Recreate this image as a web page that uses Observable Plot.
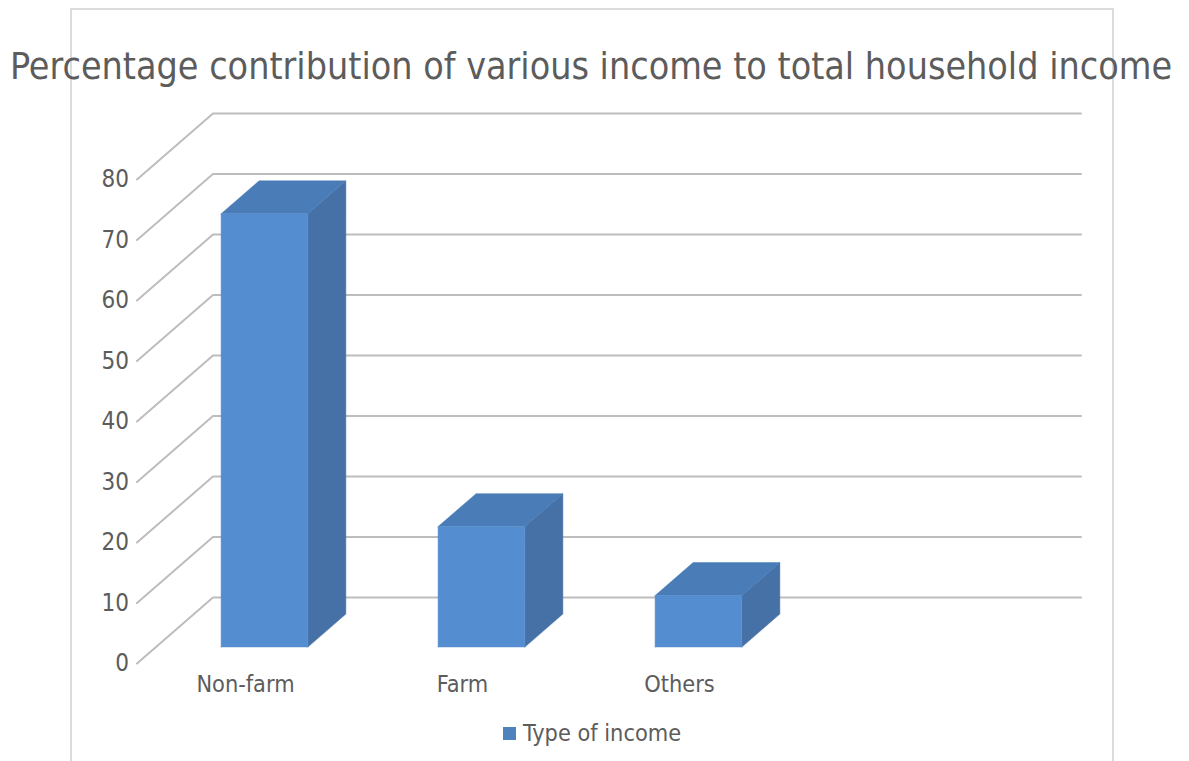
<!DOCTYPE html>
<html>
<head>
<meta charset="utf-8">
<script src="https://cdn.jsdelivr.net/npm/d3@7"></script>
<script src="https://cdn.jsdelivr.net/npm/@observablehq/plot@0.6"></script>
<style>
  html, body { margin: 0; padding: 0; background: #fff; overflow: hidden; }
  #page { position: relative; width: 1189px; height: 761px; overflow: hidden; font-family: "DejaVu Sans Condensed", "DejaVu Sans", sans-serif; color: #5c5c5c; }
  #frame { position: absolute; left: 70px; top: 8px; width: 1040px; height: 800px; border: 2px solid #dcdcdc; box-sizing: content-box; }
  #chart { position: absolute; left: 0; top: 0; }
  #title { position: absolute; left: 0; width: 1182px; top: 44px; text-align: center; font-size: 37.3px; line-height: 44px; white-space: nowrap; }
  #legend { position: absolute; left: 503px; top: 719px; font-size: 23.3px; line-height: 28px; white-space: nowrap; display: flex; align-items: center; }
  #legend i { display: inline-block; width: 13px; height: 13px; background: #4f81bd; margin-right: 7px; }
</style>
</head>
<body>
<div id="page">
  <div id="frame"></div>
  <div id="chart"></div>
  <div id="title"></div>
  <div id="legend"></div>
</div>
<script>
const titleText = "Percentage contribution of various income to total household income";
const seriesName = "Type of income";
const categories = ["Non-farm", "Farm", "Others"];
const shares = [71.6, 19.9, 8.5];
const gridValues = [0, 10, 20, 30, 40, 50, 60, 70, 80];
const categorySlots = 4;

// Oblique projection: one unit of depth moves a point right and up, in data units.
const depthX = 0.35;
const depthY = 10.9;
const at = (slot, value, depth) => ({x: slot + depth * depthX, y: value + depth * depthY});

// Each gridline runs from the front edge to the back wall, then along the wall.
const gridLines = gridValues.flatMap((v) =>
  [at(0, v, 0), at(0, v, 1), at(categorySlots, v, 1)].map((p) => ({...p, line: v}))
);

// Three visible faces of every bar.
const barWidth = 0.4, depthFront = 0.25, depthBack = 0.75;
const faces = categories.flatMap((name, i) => {
  const l = i + (1 - barWidth) / 2, r = l + barWidth, v = shares[i];
  const polygon = (face, corners) =>
    corners.map(([s, h, d]) => ({...at(s, h, d), id: `${name}-${face}`, face}));
  return [
    ...polygon("side", [[r, 0, depthFront], [r, 0, depthBack], [r, v, depthBack], [r, v, depthFront], [r, 0, depthFront]]),
    ...polygon("top", [[l, v, depthFront], [l, v, depthBack], [r, v, depthBack], [r, v, depthFront], [l, v, depthFront]]),
    ...polygon("front", [[l, 0, depthFront], [r, 0, depthFront], [r, v, depthFront], [l, v, depthFront], [l, 0, depthFront]])
  ];
});
const faceColors = {front: "#558ed0", top: "#4a7cb7", side: "#4671a6"};

const chart = Plot.plot({
  width: 1189,
  height: 761,
  marginLeft: 136.5,
  marginRight: 184.5,
  marginTop: 179,
  marginBottom: 98,
  style: {background: "transparent", fontFamily: '"DejaVu Sans Condensed", "DejaVu Sans", sans-serif', color: "#5c5c5c"},
  x: {domain: [0, categorySlots]},
  y: {domain: [0, 80]},
  marks: [
    Plot.line(gridLines, {x: "x", y: "y", z: "line", stroke: "#bdbdbd", strokeWidth: 2, curve: "linear"}),
    Plot.line(faces, {
      x: "x", y: "y", z: "id",
      fill: (d) => faceColors[d.face],
      stroke: (d) => faceColors[d.face],
      strokeWidth: 0.5,
      curve: "linear"
    }),
    Plot.axisY({
      ticks: gridValues, tickSize: 0, tickPadding: 8, dy: 0, label: null,
      fontSize: 24, fill: "#5c5c5c"
    }),
    Plot.axisX({
      ticks: categories.map((_, i) => i + 0.5),
      tickFormat: (t) => categories[Math.floor(t)],
      tickSize: 0, tickPadding: 12, label: null,
      fontSize: 23.3, fill: "#5c5c5c"
    })
  ]
});
document.getElementById("chart").append(chart);
document.getElementById("title").textContent = titleText;
document.getElementById("legend").innerHTML = `<i></i><span>${seriesName}</span>`;
</script>
</body>
</html>
